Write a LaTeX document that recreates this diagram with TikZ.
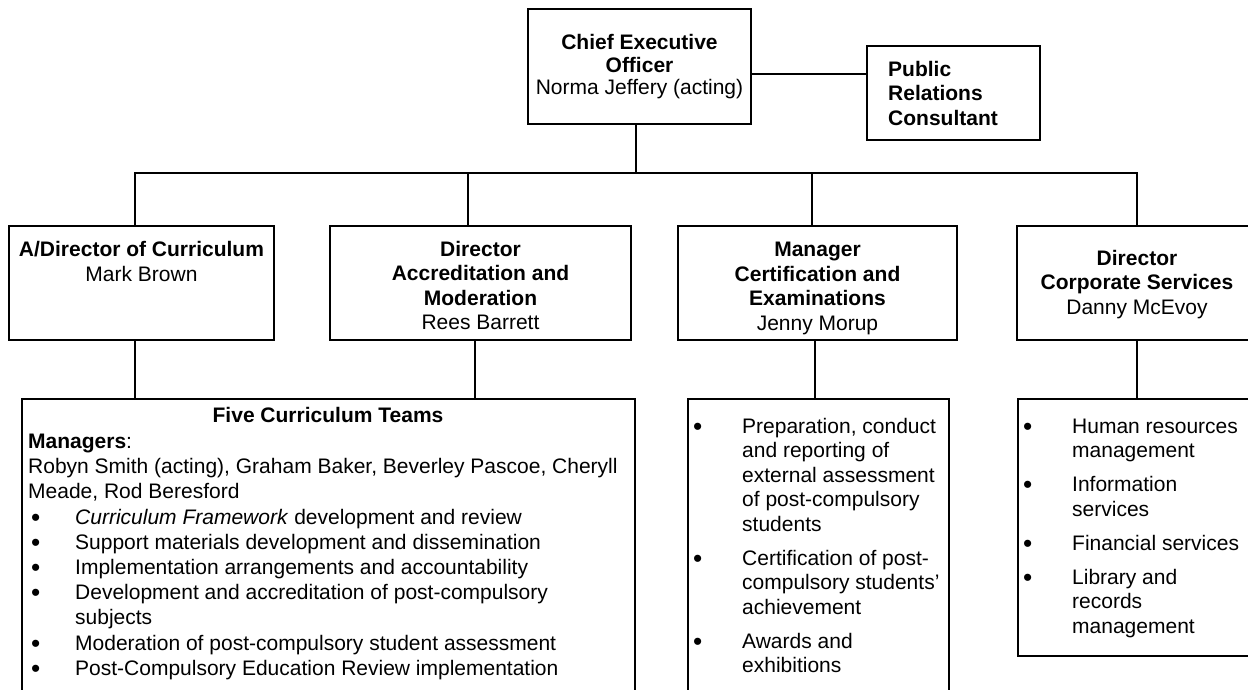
\documentclass[tikz,border=0pt]{standalone}
\usepackage{fontspec}
\setmainfont{Liberation Sans}
\newcommand\bigbul{\raisebox{-2pt}{\scalebox{1.25}{•}}}
\newcommand\teambul{\hspace*{3pt}\makebox[44pt][l]{\bigbul}}
\newcommand\sidebul{\llap{\makebox[49pt][l]{\bigbul}}}
\begin{document}
\begin{tikzpicture}[x=1pt,y=-1pt,
  box/.style={draw, line width=1.4pt, inner sep=0pt},
  conn/.style={line width=1.4pt},
  txt/.style={inner sep=0pt, font=\fontsize{21}{24.5}\selectfont,
    execute at begin node=\strut, execute at end node=\strut},
]
\useasboundingbox (0,0) rectangle (1248,690);
\clip (0,0) rectangle (1248,690);
% boxes
\node[box, minimum width=223, minimum height=115] (ceo) at (639.5,66.5) {};
\node[box, minimum width=173, minimum height=94] (pr) at (953.5,93) {};
\node[box, minimum width=265, minimum height=114] (adir) at (141.5,283) {};
\node[box, minimum width=301, minimum height=114] (dacc) at (480.5,283) {};
\node[box, minimum width=279, minimum height=114] (mgr) at (817.5,283) {};
\node[box, minimum width=240, minimum height=114] (corp) at (1137,283) {};
\node[box, minimum width=613, minimum height=321] (teams) at (328.5,559.5) {};
\node[box, minimum width=261, minimum height=321] (mlow) at (818.5,559.5) {};
\node[box, minimum width=238, minimum height=257] (clow) at (1137,527.5) {};
% texts
\node[txt, align=center, font=\fontsize{21}{22.5}\selectfont] (ceotext) at (639.5,68) {\textbf{Chief Executive}\\\textbf{Officer}\\Norma Jeffery (acting)};
\node[txt, align=left, anchor=west] (prtext) at (888,97) {\textbf{Public}\\\textbf{Relations}\\\textbf{Consultant}};
\node[txt, align=center] (adirtext) at (141.5,265) {\textbf{A/Director of Curriculum}\\Mark Brown};
\node[txt, align=center] (dacctext) at (480.5,289) {\textbf{Director}\\\textbf{Accreditation and}\\\textbf{Moderation}\\Rees Barrett};
\node[txt, align=center] (mgrtext) at (817.5,290) {\textbf{Manager}\\\textbf{Certification and}\\\textbf{Examinations}\\Jenny Morup};
\node[txt, align=center] (corptext) at (1137,286) {\textbf{Director}\\\textbf{Corporate Services}\\Danny McEvoy};
\node[txt] (teamstitle) at (328,418) {\textbf{Five Curriculum Teams}};
\node[txt, align=left, anchor=west, font=\fontsize{21}{25.2}\selectfont] (teamstext) at (28,558.5) {\textbf{Managers}:\\
Robyn Smith (acting), Graham Baker, Beverley Pascoe, Cheryll\\
Meade, Rod Beresford\\
\teambul\textit{Curriculum Framework} development and review\\
\teambul Support materials development and dissemination\\
\teambul Implementation arrangements and accountability\\
\teambul Development and accreditation of post-compulsory\\
\hspace*{47pt}subjects\\
\teambul Moderation of post-compulsory student assessment\\
\teambul Post-Compulsory Education Review implementation};
\node[txt, align=left, anchor=west] (mlowtext) at (742,549) {\sidebul Preparation, conduct\\and reporting of\\external assessment\\of post-compulsory\\students\\[9.5pt]
\sidebul Certification of post-\\compulsory students’\\achievement\\[9.5pt]
\sidebul Awards and\\exhibitions};
\node[txt, align=left, anchor=west] (clowtext) at (1072,529.5) {\sidebul Human resources\\management\\[9.5pt]
\sidebul Information\\services\\[9.5pt]
\sidebul Financial services\\[9.5pt]
\sidebul Library and\\records\\management};
% connectors
\coordinate (prl) at (800,74);
\draw[conn] (ceo.east |- prl) -- (pr.west |- prl);
\coordinate (bx) at (636,173);
\draw[conn] (bx |- ceo.south) -- (bx);
\coordinate (b1) at (135,173);
\coordinate (b2) at (468,173);
\coordinate (b3) at (812,173);
\coordinate (b4) at (1137,173);
\draw[conn] (b1 |- adir.north) -- (b1) -- (b4) -- (b4 |- corp.north);
\draw[conn] (b2) -- (b2 |- dacc.north);
\draw[conn] (b3) -- (b3 |- mgr.north);
\coordinate (d1) at (135,370);
\coordinate (d2) at (475,370);
\coordinate (d3) at (815,370);
\coordinate (d4) at (1137,370);
\draw[conn] (d1 |- adir.south) -- (d1 |- teams.north);
\draw[conn] (d2 |- dacc.south) -- (d2 |- teams.north);
\draw[conn] (d3 |- mgr.south) -- (d3 |- mlow.north);
\draw[conn] (d4 |- corp.south) -- (d4 |- clow.north);
\end{tikzpicture}
\end{document}
